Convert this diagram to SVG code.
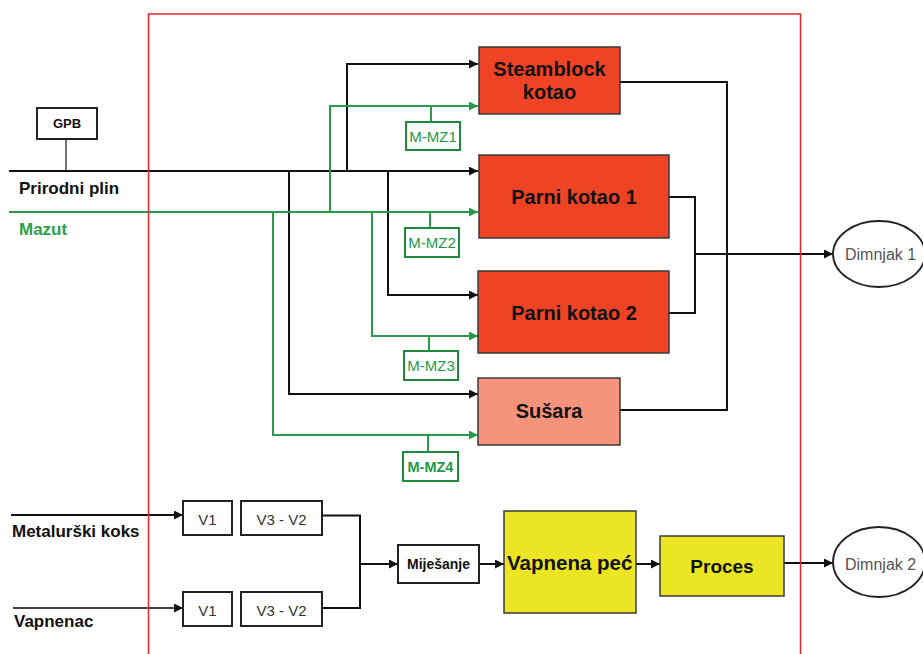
<svg xmlns="http://www.w3.org/2000/svg" width="923" height="654" viewBox="0 0 923 654">
<defs>
<marker id="ab" viewBox="0 0 10 10" refX="10" refY="5" markerWidth="10" markerHeight="9" markerUnits="userSpaceOnUse" orient="auto"><path d="M0,0 L10,5 L0,10 z" fill="#111"/></marker>
<marker id="ag" viewBox="0 0 10 10" refX="10" refY="5" markerWidth="10" markerHeight="9" markerUnits="userSpaceOnUse" orient="auto"><path d="M0,0 L10,5 L0,10 z" fill="#2a9a4a"/></marker>
<style>
text{font-family:"Liberation Sans",Arial,sans-serif}
.k{fill:none;stroke:#111;stroke-width:2}
.g{fill:none;stroke:#2a9a4a;stroke-width:2}
.box{stroke:#3a3a3a;stroke-width:1.5}
.red{fill:#ee4324}
.sal{fill:#f5937c}
.yel{fill:#ece523}
.wb{fill:#fff;stroke:#222;stroke-width:2}
.mz{fill:#fff;stroke:#1e8a40;stroke-width:2}
.t{font-weight:bold;font-size:20px;fill:#111;text-anchor:middle}
.lab{font-weight:bold;font-size:17px;fill:#111}
.mzt{font-size:15px;fill:#1e9a48;text-anchor:middle}
.v{font-size:15px;fill:#333;text-anchor:middle}
.dim{font-size:16px;fill:#555}
</style>
</defs>
<g id="connectors">
<path class="k" d="M66 139 V171" style="stroke:#444;stroke-width:1.5"/>
<path class="k" d="M9 171 H478" marker-end="url(#ab)"/>
<path class="k" d="M347 171 V64 H478" marker-end="url(#ab)"/>
<path class="k" d="M388 171 V295 H478" marker-end="url(#ab)"/>
<path class="k" d="M289 171 V394 H478" marker-end="url(#ab)"/>
<path class="g" d="M9 212 H478" marker-end="url(#ag)"/>
<path class="g" d="M330 212 V106 H478" marker-end="url(#ag)"/>
<path class="g" d="M372 212 V336 H478" marker-end="url(#ag)"/>
<path class="g" d="M273 212 V435 H478" marker-end="url(#ag)"/>
<path class="g" d="M431 106 V122"/>
<path class="g" d="M430 212 V228"/>
<path class="g" d="M429 336 V351"/>
<path class="g" d="M428 435 V452"/>
<path class="k" d="M620 82 H727 V410 H620"/>
<path class="k" d="M669 197 H695 V313 H669"/>
<path class="k" d="M695 254 H833" marker-end="url(#ab)"/>
<path class="k" d="M11 515 H183" marker-end="url(#ab)"/>
<path class="k" d="M13 608 H183" style="stroke-width:1.3;stroke:#000" marker-end="url(#ab)"/>
<path class="k" d="M322 515.5 H360 V608 H322"/>
<path class="k" d="M360 564 H398" marker-end="url(#ab)"/>
<path class="k" d="M479 564 H504" marker-end="url(#ab)"/>
<path class="k" d="M636 564 H660" marker-end="url(#ab)"/>
<path class="k" d="M784 563 H833" marker-end="url(#ab)"/>
</g>
<g id="frame"><path d="M148.5 654 V14 H800.5 V654" fill="none" stroke="#e8262b" stroke-width="1.5"/></g>
<g id="gpb"><rect x="37" y="108" width="60" height="31" class="wb"/><text x="67" y="128" style="font-weight:bold;font-size:13px;fill:#111" text-anchor="middle">GPB</text></g>
<g id="prirodni-plin"><text x="19" y="194" class="lab">Prirodni plin</text></g>
<g id="mazut"><text x="19" y="235" class="lab" style="fill:#2da04a">Mazut</text></g>
<g id="steamblock"><rect x="479" y="47" width="141" height="67" class="red box"/><text x="549.5" y="76" class="t">Steamblock</text><text x="549.5" y="99" class="t">kotao</text></g>
<g id="mmz1"><rect x="406" y="122" width="54" height="28" class="mz"/><text x="433" y="142" class="mzt">M-MZ1</text></g>
<g id="parni1"><rect x="479" y="155" width="190" height="83" class="red box"/><text x="574" y="204" class="t">Parni kotao 1</text></g>
<g id="mmz2"><rect x="405" y="228" width="54" height="29" class="mz"/><text x="432" y="248" class="mzt">M-MZ2</text></g>
<g id="parni2"><rect x="478" y="271" width="191" height="82" class="red box"/><text x="574" y="320" class="t">Parni kotao 2</text></g>
<g id="mmz3"><rect x="404" y="351" width="54" height="29" class="mz"/><text x="431" y="371" class="mzt">M-MZ3</text></g>
<g id="susara"><rect x="478" y="378" width="142" height="67" class="sal box"/><text x="549" y="418" class="t">Sušara</text></g>
<g id="mmz4"><rect x="403" y="452" width="55" height="29" class="mz"/><text x="430.5" y="472" class="mzt" style="font-weight:bold;font-size:14.5px">M-MZ4</text></g>
<g id="dimnjak1"><ellipse cx="879" cy="254" rx="46" ry="33" class="wb" style="stroke-width:1.8"/><text x="845" y="260" class="dim">Dimnjak 1</text></g>
<g id="metalurski"><text x="12" y="537" class="lab">Metalurški koks</text></g>
<g id="vapnenac"><text x="14" y="627" class="lab">Vapnenac</text></g>
<g id="v1a"><rect x="183" y="501" width="49" height="34" class="wb"/><text x="207.5" y="525" class="v">V1</text></g>
<g id="v32a"><rect x="241" y="501" width="81" height="34" class="wb"/><text x="281.5" y="525" class="v">V3 - V2</text></g>
<g id="v1b"><rect x="183" y="592" width="49" height="34" class="wb"/><text x="207.5" y="616" class="v">V1</text></g>
<g id="v32b"><rect x="241" y="592" width="81" height="34" class="wb"/><text x="281.5" y="616" class="v">V3 - V2</text></g>
<g id="mijesanje"><rect x="398" y="545" width="81" height="38" class="wb"/><text x="438.5" y="569" style="font-weight:bold;font-size:14px;fill:#111" text-anchor="middle">Miješanje</text></g>
<g id="vapnena-pec"><rect x="504" y="511" width="132" height="102" class="yel box"/><text x="507" y="570" style="font-weight:bold;font-size:20.5px;fill:#111">Vapnena peć</text></g>
<g id="proces"><rect x="660" y="536" width="124" height="60" class="yel box"/><text x="722" y="573" class="t" style="font-size:19px">Proces</text></g>
<g id="dimnjak2"><ellipse cx="879" cy="562" rx="46" ry="35" class="wb" style="stroke-width:1.8"/><text x="845" y="570" class="dim">Dimnjak 2</text></g>
</svg>
